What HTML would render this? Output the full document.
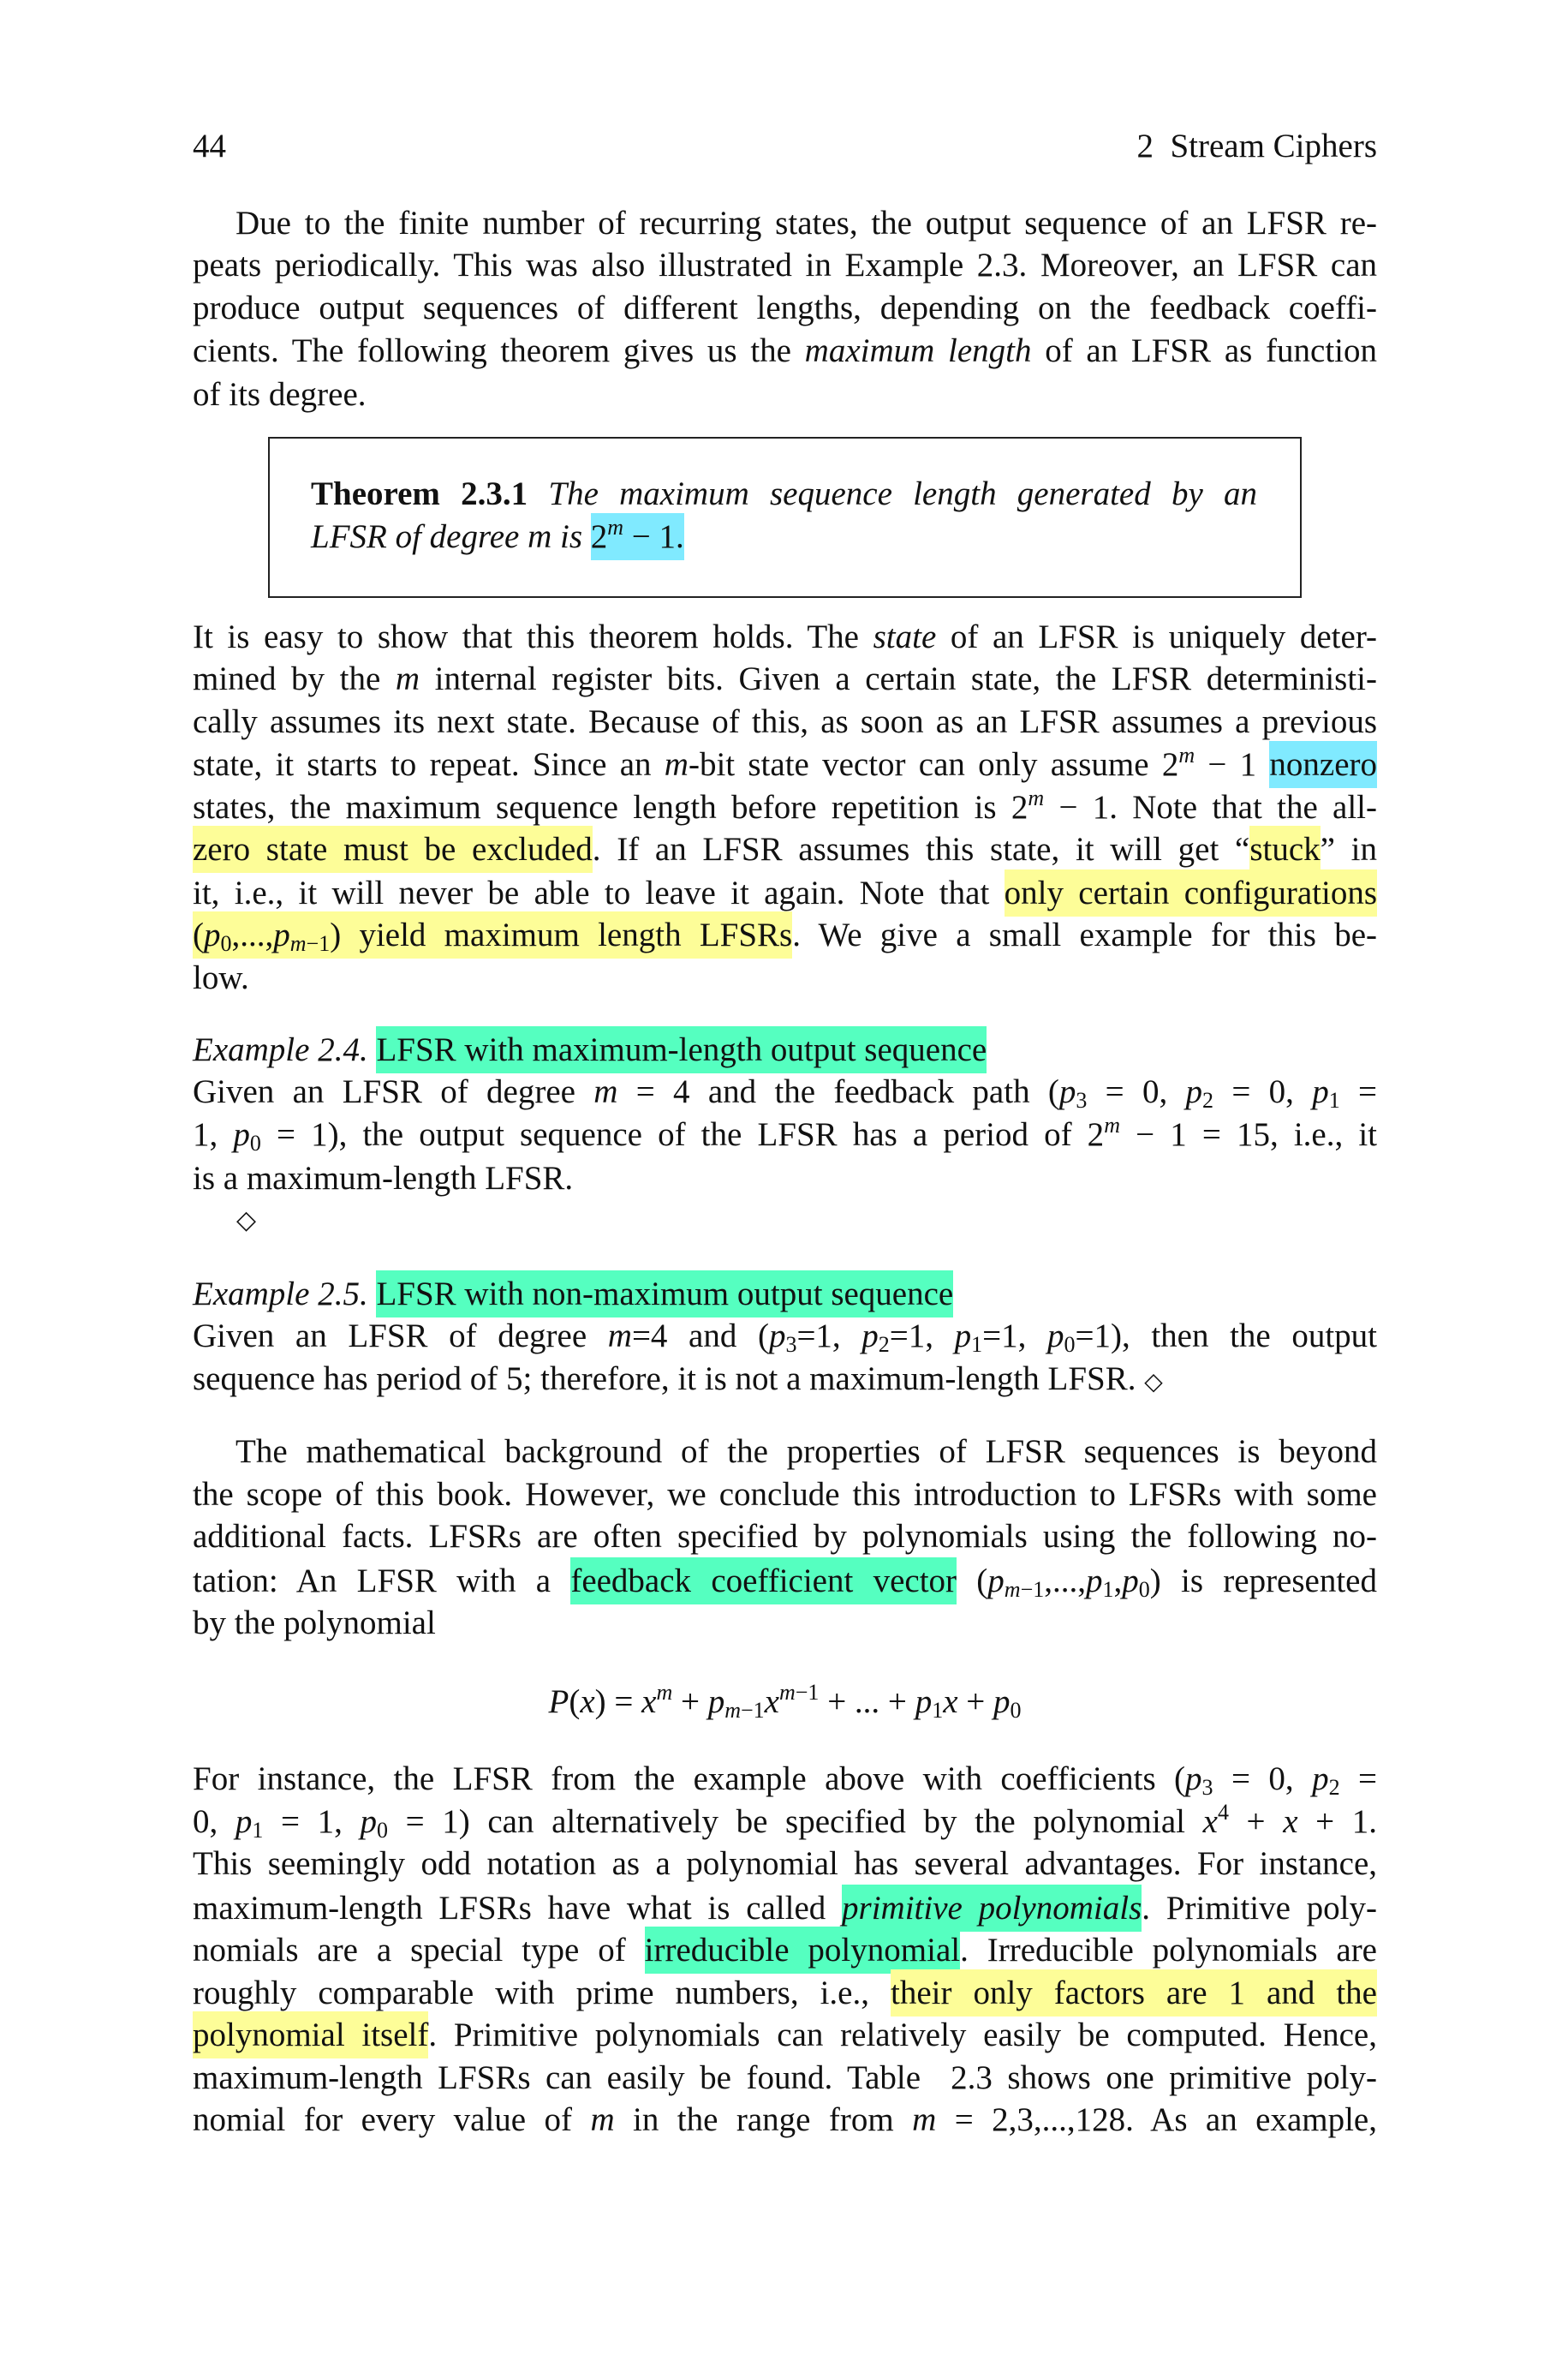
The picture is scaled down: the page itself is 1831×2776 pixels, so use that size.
<!DOCTYPE html>
<html><head><meta charset="utf-8">
<style>
html,body{margin:0;padding:0;background:#fff;}
body{width:1831px;height:2776px;position:relative;overflow:hidden;font-family:"Liberation Serif",serif;color:#111;font-size:39px;}
.l{position:absolute;left:225px;width:1383px;line-height:50px;white-space:nowrap;text-align:justify;text-align-last:justify;}
.n{text-align-last:left;}
i{font-style:italic;}
sub{font-size:26px;vertical-align:-6px;line-height:0;}
sup{font-size:26px;vertical-align:15px;line-height:0;}
.y{background:#fdfd98;padding:6px 0 6px;}
.g{background:#55ffc0;padding:6px 0 6px;}
.c{background:#80eaff;padding:6px 0 6px;}
.box{position:absolute;left:313px;top:510px;width:1203px;height:184px;border:2px solid #222;}
</style></head><body>
<div class="l" style="top:146px">44<span style="float:right">2&nbsp; Stream Ciphers</span></div>

<div class="l" style="top:236px;padding-left:50px;width:1333px">Due to the finite number of recurring states, the output sequence of an LFSR re-</div>
<div class="l" style="top:285px">peats periodically. This was also illustrated in Example 2.3. Moreover, an LFSR can</div>
<div class="l" style="top:335px">produce output sequences of different lengths, depending on the feedback coeffi-</div>
<div class="l" style="top:385px">cients. The following theorem gives us the <i>maximum length</i> of an LFSR as function</div>
<div class="l n" style="top:436px">of its degree.</div>

<div class="box"></div>
<div class="l" style="top:552px;left:363px;width:1105px"><b>Theorem 2.3.1</b> <i>The maximum sequence length generated by an</i></div>
<div class="l n" style="top:602px;left:363px;width:1105px"><i>LFSR of degree m is</i> <span class="c">2<sup><i>m</i></sup> − 1.</span></div>

<div class="l" style="top:719px">It is easy to show that this theorem holds. The <i>state</i> of an LFSR is uniquely deter-</div>
<div class="l" style="top:768px">mined by the <i>m</i> internal register bits. Given a certain state, the LFSR deterministi-</div>
<div class="l" style="top:818px">cally assumes its next state. Because of this, as soon as an LFSR assumes a previous</div>
<div class="l" style="top:868px">state, it starts to repeat. Since an <i>m</i>-bit state vector can only assume 2<sup><i>m</i></sup> − 1 <span class="c">nonzero</span></div>
<div class="l" style="top:918px">states, the maximum sequence length before repetition is 2<sup><i>m</i></sup> − 1. Note that the all-</div>
<div class="l" style="top:967px"><span class="y">zero state must be excluded</span>. If an LFSR assumes this state, it will get “<span class="y">stuck</span>” in</div>
<div class="l" style="top:1018px">it, i.e., it will never be able to leave it again. Note that <span class="y">only certain configurations</span></div>
<div class="l" style="top:1067px"><span class="y">(<i>p</i><sub>0</sub>,...,<i>p</i><sub><i>m</i>−1</sub>) yield maximum length LFSRs</span>. We give a small example for this be-</div>
<div class="l n" style="top:1117px">low.</div>

<div class="l n" style="top:1201px"><i>Example 2.4.</i> <span class="g">LFSR with maximum-length output sequence</span></div>
<div class="l" style="top:1250px">Given an LFSR of degree <i>m</i> = 4 and the feedback path (<i>p</i><sub>3</sub> = 0, <i>p</i><sub>2</sub> = 0, <i>p</i><sub>1</sub> =</div>
<div class="l" style="top:1300px">1, <i>p</i><sub>0</sub> = 1), the output sequence of the LFSR has a period of 2<sup><i>m</i></sup> − 1 = 15, i.e., it</div>
<div class="l n" style="top:1351px">is a maximum-length LFSR.</div>
<div class="l n" style="top:1400px;left:276px;font-size:30px">◇</div>

<div class="l n" style="top:1486px"><i>Example 2.5.</i> <span class="g">LFSR with non-maximum output sequence</span></div>
<div class="l" style="top:1535px">Given an LFSR of degree <i>m</i>=4 and (<i>p</i><sub>3</sub>=1, <i>p</i><sub>2</sub>=1, <i>p</i><sub>1</sub>=1, <i>p</i><sub>0</sub>=1), then the output</div>
<div class="l n" style="top:1585px">sequence has period of 5; therefore, it is not a maximum-length LFSR. <span style="font-size:28px">◇</span></div>

<div class="l" style="top:1670px;padding-left:50px;width:1333px">The mathematical background of the properties of LFSR sequences is beyond</div>
<div class="l" style="top:1720px">the scope of this book. However, we conclude this introduction to LFSRs with some</div>
<div class="l" style="top:1769px">additional facts. LFSRs are often specified by polynomials using the following no-</div>
<div class="l" style="top:1821px">tation: An LFSR with a <span class="g">feedback coefficient vector</span> (<i>p</i><sub><i>m</i>−1</sub>,...,<i>p</i><sub>1</sub>,<i>p</i><sub>0</sub>) is represented</div>
<div class="l n" style="top:1870px">by the polynomial</div>

<div class="l n" style="top:1962px;text-align:center;text-align-last:center"><i>P</i>(<i>x</i>) = <i>x</i><sup><i>m</i></sup> + <i>p</i><sub><i>m</i>−1</sub><i>x</i><sup><i>m</i>−1</sup> + ... + <i>p</i><sub>1</sub><i>x</i> + <i>p</i><sub>0</sub></div>

<div class="l" style="top:2052px">For instance, the LFSR from the example above with coefficients (<i>p</i><sub>3</sub> = 0, <i>p</i><sub>2</sub> =</div>
<div class="l" style="top:2102px">0, <i>p</i><sub>1</sub> = 1, <i>p</i><sub>0</sub> = 1) can alternatively be specified by the polynomial <i>x</i><sup>4</sup> + <i>x</i> + 1.</div>
<div class="l" style="top:2151px">This seemingly odd notation as a polynomial has several advantages. For instance,</div>
<div class="l" style="top:2203px">maximum-length LFSRs have what is called <span class="g"><i>primitive polynomials</i></span>. Primitive poly-</div>
<div class="l" style="top:2252px">nomials are a special type of <span class="g">irreducible polynomial</span>. Irreducible polynomials are</div>
<div class="l" style="top:2302px">roughly comparable with prime numbers, i.e., <span class="y">their only factors are 1 and the</span></div>
<div class="l" style="top:2351px"><span class="y">polynomial itself</span>. Primitive polynomials can relatively easily be computed. Hence,</div>
<div class="l" style="top:2401px">maximum-length LFSRs can easily be found. Table&nbsp; 2.3 shows one primitive poly-</div>
<div class="l" style="top:2450px">nomial for every value of <i>m</i> in the range from <i>m</i> = 2,3,...,128. As an example,</div>
</body></html>
